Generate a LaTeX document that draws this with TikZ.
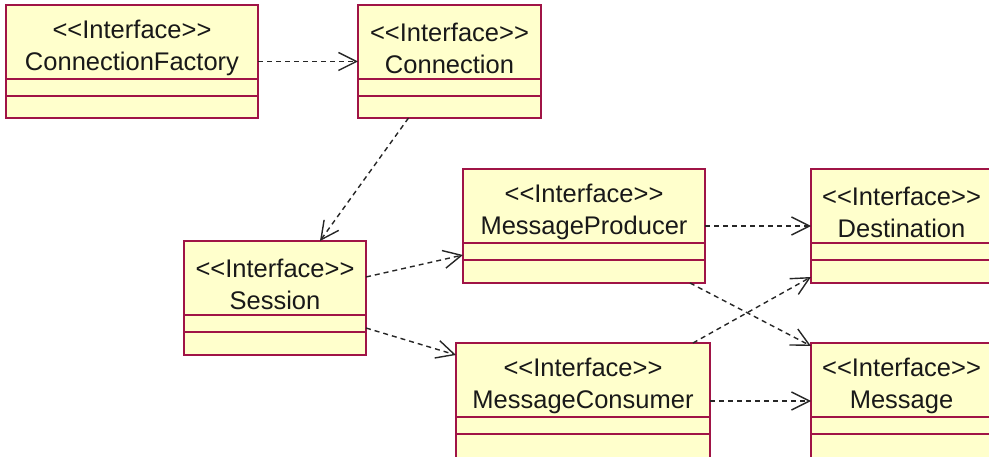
\documentclass[tikz,border=0pt]{standalone}
\usepackage{fontspec}
\setmainfont{Liberation Sans}[Ligatures=TeXOff]
\usetikzlibrary{arrows.meta}

\definecolor{classfill}{RGB}{255,255,204}
\definecolor{classline}{RGB}{160,20,70}

\begin{document}
\begin{tikzpicture}[
  x=1pt, y=-1pt,
  iface/.style={draw=classline, fill=classfill, line width=1.6pt, inner sep=0pt, outer sep=0pt},
  compart/.style={draw=classline, line width=1.6pt},
  caption/.style={font=\fontsize{25.5}{32}\selectfont, align=center, text=black!90},
  dep/.style={draw=black!85, line width=1.4pt, dash pattern=on 5pt off 4pt,
    -{Straight Barb[length=18pt, width=18pt]}},
  ]
  \useasboundingbox (0,0) rectangle (989,457);
  \clip (0,0) rectangle (989,457);

  %% Classes

  % ConnectionFactory
  \node[iface, minimum width=252pt, minimum height=113pt] (factory) at (132,61.5) {};
  \path (factory.north) ++(0,43) node[caption] (factory-name) {<<Interface>>\\ConnectionFactory};
  \draw[compart] ([yshift=-74pt]factory.north west) -- ([yshift=-74pt]factory.north east);
  \draw[compart] ([yshift=-91pt]factory.north west) -- ([yshift=-91pt]factory.north east);

  % Connection
  \node[iface, minimum width=183pt, minimum height=113pt] (connection) at (449.5,61.5) {};
  \path (connection.north) ++(0,43) node[caption] (connection-name) {<<Interface>>\\Connection};
  \draw[compart] ([yshift=-74pt]connection.north west) -- ([yshift=-74pt]connection.north east);
  \draw[compart] ([yshift=-91pt]connection.north west) -- ([yshift=-91pt]connection.north east);

  % Session
  \node[iface, minimum width=182pt, minimum height=114pt] (session) at (275,298) {};
  \path (session.north) ++(0,43) node[caption] (session-name) {<<Interface>>\\Session};
  \draw[compart] ([yshift=-74pt]session.north west) -- ([yshift=-74pt]session.north east);
  \draw[compart] ([yshift=-91pt]session.north west) -- ([yshift=-91pt]session.north east);

  % MessageProducer
  \node[iface, minimum width=242pt, minimum height=114pt] (producer) at (584,226) {};
  \path (producer.north) ++(0,43) node[caption] (producer-name) {<<Interface>>\\MessageProducer};
  \draw[compart] ([yshift=-74pt]producer.north west) -- ([yshift=-74pt]producer.north east);
  \draw[compart] ([yshift=-91pt]producer.north west) -- ([yshift=-91pt]producer.north east);

  % MessageConsumer
  \node[iface, minimum width=254pt, minimum height=116pt] (consumer) at (583,401) {};
  \path (consumer.north) ++(0,43) node[caption] (consumer-name) {<<Interface>>\\MessageConsumer};
  \draw[compart] ([yshift=-74pt]consumer.north west) -- ([yshift=-74pt]consumer.north east);
  \draw[compart] ([yshift=-91pt]consumer.north west) -- ([yshift=-91pt]consumer.north east);

  % Destination
  \node[iface, minimum width=181pt, minimum height=114pt] (destination) at (901.5,226) {};
  \path (destination.north) ++(0,43) node[caption] (destination-name) {<<Interface>>\\Destination};
  \draw[compart] ([yshift=-74pt]destination.north west) -- ([yshift=-74pt]destination.north east);
  \draw[compart] ([yshift=-91pt]destination.north west) -- ([yshift=-91pt]destination.north east);

  % Message
  \node[iface, minimum width=181pt, minimum height=116pt] (message) at (901.5,401) {};
  \path (message.north) ++(0,43) node[caption] (message-name) {<<Interface>>\\Message};
  \draw[compart] ([yshift=-74pt]message.north west) -- ([yshift=-74pt]message.north east);
  \draw[compart] ([yshift=-91pt]message.north west) -- ([yshift=-91pt]message.north east);

  %% Dependencies
  \draw[dep] (factory) -- (connection);
  \draw[dep] ([xshift=-41pt]connection.south) -- ([xshift=45pt]session.north);
  \draw[dep] ([yshift=21pt]session.east) -- ([yshift=-29pt]producer.west);
  \draw[dep] ([yshift=-30pt]session.east) -- ([yshift=46pt]consumer.west);
  \draw[dep] (producer) -- (destination);
  \draw[dep] ([xshift=106pt]producer.south) -- ([yshift=55pt]message.west);
  \draw[dep] ([xshift=110pt]consumer.north) -- ([yshift=-51pt]destination.west);
  \draw[dep] (consumer) -- (message);

\end{tikzpicture}
\end{document}
